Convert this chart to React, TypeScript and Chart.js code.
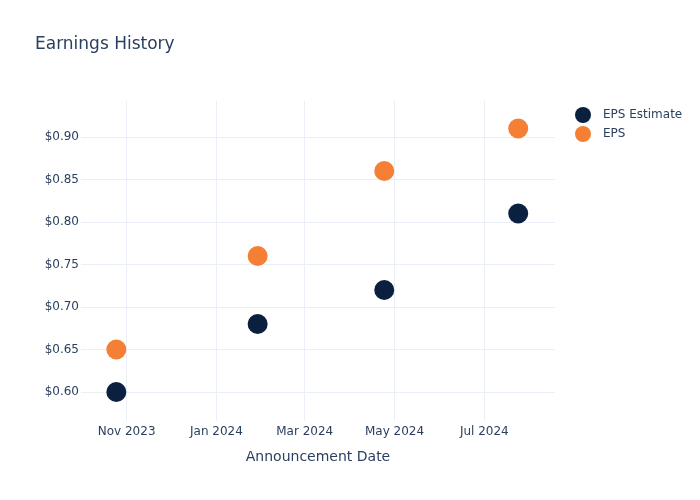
import React, { useEffect, useRef } from "react";
import { Chart, registerables } from "chart.js";

Chart.register(...registerables);

const announcementDates = ["2023-10-25", "2024-01-29", "2024-04-24", "2024-07-24"];
const epsEstimate = [0.6, 0.68, 0.72, 0.81];
const epsActual = [0.65, 0.76, 0.86, 0.91];
const xTickDates = ["2023-11-01", "2024-01-01", "2024-03-01", "2024-05-01", "2024-07-01"];
const xTickLabels = ["Nov 2023", "Jan 2024", "Mar 2024", "May 2024", "Jul 2024"];
const yTickValues = [0.6, 0.65, 0.7, 0.75, 0.8, 0.85, 0.9];
const xRange = ["2023-10-01", "2024-08-18"];
const yRange = [0.5659, 0.9424];

const ts = (d: string) => {
  const [y, m, dd] = d.split("-").map(Number);
  return Date.UTC(y, m - 1, dd);
};

const NAVY = "#0b1f3f";
const ORANGE = "#f47f35";
const TEXT = "#2a3f5f";
const GRID = "#ebf0f8";
const FONT = "'DejaVu Sans', Verdana, sans-serif";

export default function App() {
  const ref = useRef<HTMLCanvasElement | null>(null);
  useEffect(() => {
    if (!ref.current) return;
    const decor = {
      id: "decor",
      afterDraw(chart: any) {
        const ctx = chart.ctx;
        ctx.save();
        ctx.fillStyle = TEXT;
        ctx.textBaseline = "middle";
        ctx.font = `17px ${FONT}`;
        ctx.textAlign = "left";
        ctx.fillText("Earnings History", 35, 45);
        ctx.font = `14px ${FONT}`;
        ctx.textAlign = "center";
        ctx.fillText("Announcement Date", (chart.chartArea.left + chart.chartArea.right) / 2, 457);
        const items = chart.data.datasets.map((d: any) => ({ label: d.label, color: d.backgroundColor }));
        ctx.font = `12px ${FONT}`;
        ctx.textAlign = "left";
        items.forEach((it: any, i: number) => {
          const y = 115 + i * 19;
          ctx.beginPath();
          ctx.arc(583, y, 8, 0, Math.PI * 2);
          ctx.fillStyle = it.color;
          ctx.fill();
          ctx.fillStyle = TEXT;
          ctx.fillText(it.label, 603, y);
        });
        ctx.restore();
      },
    };
    const chart = new Chart(ref.current, {
      type: "scatter",
      data: {
        datasets: [
          {
            label: "EPS Estimate",
            data: announcementDates.map((d, i) => ({ x: ts(d), y: epsEstimate[i] })),
            backgroundColor: NAVY,
            borderColor: NAVY,
            pointRadius: 10,
            borderWidth: 0,
          },
          {
            label: "EPS",
            data: announcementDates.map((d, i) => ({ x: ts(d), y: epsActual[i] })),
            backgroundColor: ORANGE,
            borderColor: ORANGE,
            pointRadius: 10,
            borderWidth: 0,
          },
        ],
      },
      options: {
        animation: false,
        responsive: false,
        layout: { padding: { top: 101, right: 145, left: 1, bottom: 0 } },
        plugins: { legend: { display: false }, title: { display: false }, tooltip: { enabled: false } },
        scales: {
          x: {
            type: "linear",
            min: ts(xRange[0]),
            max: ts(xRange[1]),
            border: { display: false },
            grid: { color: GRID, drawTicks: false },
            afterBuildTicks: (s: any) => {
              s.ticks = xTickDates.map((d) => ({ value: ts(d) }));
            },
            afterFit: (s: any) => {
              s.height = 79;
            },
            ticks: {
              padding: 4,
              maxRotation: 0,
              autoSkip: false,
              color: TEXT,
              font: { family: FONT, size: 12 },
              callback: (v: any) => {
                const i = xTickDates.findIndex((d) => ts(d) === v);
                return i >= 0 ? xTickLabels[i] : "";
              },
            },
          },
          y: {
            type: "linear",
            min: yRange[0],
            max: yRange[1],
            border: { display: false },
            grid: { color: GRID, drawTicks: false },
            afterBuildTicks: (s: any) => {
              s.ticks = yTickValues.map((v) => ({ value: v }));
            },
            afterFit: (s: any) => {
              s.width = 80;
            },
            ticks: {
              padding: 2,
              color: TEXT,
              font: { family: FONT, size: 12 },
              callback: (v: any) => "$" + Number(v).toFixed(2),
            },
          },
        },
      },
      plugins: [decor],
    } as any);
    return () => chart.destroy();
  }, []);
  return (
    <div style={{ position: "fixed", left: 0, top: 0, width: 700, height: 500, background: "#fff" }}>
      <canvas ref={ref} width={700} height={500} style={{ width: 700, height: 500 }} />
    </div>
  );
}
